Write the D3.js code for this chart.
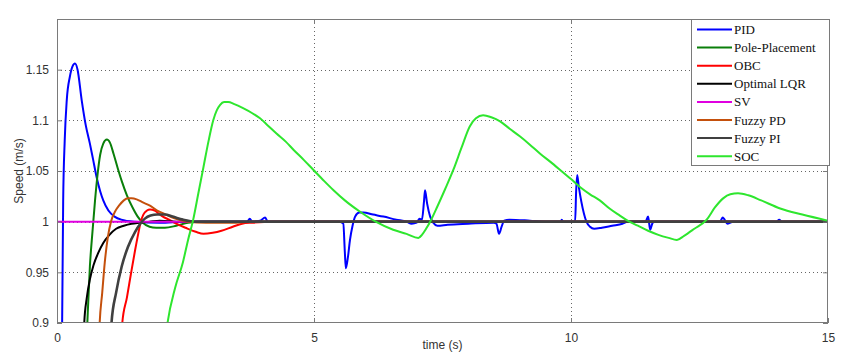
<!DOCTYPE html>
<html><head><meta charset="utf-8">
<script src="https://cdn.jsdelivr.net/npm/d3@7"></script>
<style>
body{margin:0;background:#fff;}
svg{display:block;}
</style>
</head><body>
<svg id="chart" width="854" height="353"></svg>
<script>
const seriesNames = ["PID","Pole-Placement","OBC","Optimal LQR","SV","Fuzzy PD","Fuzzy PI","SOC"];
const seriesColors = ["#0000ff","#0a7f0a","#ff0000","#000000","#e000e0","#c4500c","#404040","#2ee62e"];
const xTicks = [0,5,10,15];
const yTicks = [0.9,0.95,1,1.05,1.1,1.15];
const yTickLabels = ["0.9","0.95","1","1.05","1.1","1.15"];

const pid = [[0.08,0.85],[0.10,0.90],[0.12,1.02],[0.15,1.08],[0.19,1.12],[0.25,1.143],[0.30,1.153],[0.35,1.156],[0.40,1.150],[0.48,1.12],[0.56,1.095],[0.64,1.077],[0.70,1.062],[0.77,1.044],[0.84,1.030],[0.90,1.021],[1.00,1.011],[1.12,1.005],[1.25,1.002],[1.5,1.0],[2.0,0.999],[2.5,1.0],[3.0,1.0],[3.7,1.0],[3.75,1.003],[3.8,1.0],[3.95,1.001],[4.05,1.004],[4.1,1.0],[4.2,1.0],[5.5,1.0],[5.57,0.998],[5.60,0.97],[5.62,0.954],[5.66,0.965],[5.70,0.982],[5.75,0.996],[5.80,1.005],[5.88,1.009],[5.96,1.009],[6.15,1.007],[6.35,1.005],[6.6,1.002],[6.8,1.0],[6.9,0.998],[7.0,0.999],[7.05,1.003],[7.1,1.002],[7.14,1.02],[7.16,1.031],[7.2,1.018],[7.26,1.005],[7.32,0.999],[7.4,0.996],[7.6,0.997],[8.0,0.998],[8.5,0.999],[8.55,0.998],[8.6,0.988],[8.65,0.995],[8.7,1.001],[8.8,1.002],[9.2,1.001],[9.5,1.0],[9.8,1.0],[9.82,1.002],[9.85,1.0],[10.08,1.0],[10.1,1.03],[10.12,1.046],[10.15,1.035],[10.2,1.02],[10.3,1.0],[10.37,0.995],[10.45,0.993],[10.6,0.994],[10.8,0.996],[11.0,0.998],[11.1,1.0],[11.45,1.0],[11.5,1.005],[11.54,0.992],[11.58,0.998],[11.62,1.0],[12.9,1.0],[12.95,1.004],[13.05,0.998],[13.15,1.0],[14.0,1.0],[14.05,1.002],[14.1,1.0],[15,1.0]];
const pole = [[0.55,0.85],[0.59,0.90],[0.64,0.956],[0.69,0.99],[0.74,1.021],[0.79,1.047],[0.84,1.066],[0.90,1.077],[0.97,1.081],[1.03,1.078],[1.10,1.067],[1.18,1.053],[1.26,1.040],[1.36,1.026],[1.47,1.014],[1.57,1.005],[1.67,0.999],[1.80,0.995],[1.93,0.994],[2.1,0.994],[2.32,0.996],[2.55,0.999],[2.8,1.0],[15,1.0]];
const obc = [[1.22,0.86],[1.27,0.90],[1.36,0.925],[1.45,0.952],[1.52,0.972],[1.58,0.988],[1.63,1.0],[1.68,1.007],[1.75,1.011],[1.81,1.012],[1.90,1.011],[1.98,1.008],[2.06,1.005],[2.18,1.002],[2.32,0.998],[2.5,0.994],[2.7,0.990],[2.85,0.988],[3.03,0.989],[3.2,0.991],[3.42,0.995],[3.6,0.998],[3.8,0.999],[4.2,1.0],[15,1.0]];
const lqr = [[0.50,0.86],[0.53,0.90],[0.58,0.925],[0.64,0.943],[0.71,0.957],[0.80,0.969],[0.90,0.979],[1.02,0.987],[1.15,0.993],[1.30,0.996],[1.45,0.998],[1.6,0.999],[1.8,1.0],[2.0,1.001],[2.4,1.0],[15,1.0]];
const sv = [[0,1.0],[15,1.0]];
const fuzzyPD = [[0.80,0.86],[0.83,0.90],[0.88,0.93],[0.93,0.96],[0.99,0.985],[1.05,1.0],[1.13,1.010],[1.21,1.016],[1.30,1.021],[1.38,1.023],[1.45,1.023],[1.55,1.022],[1.67,1.019],[1.80,1.016],[1.95,1.011],[2.12,1.007],[2.3,1.003],[2.55,1.0],[2.9,0.999],[3.4,0.999],[3.8,1.0],[15,1.0]];
const fuzzyPI = [[1.02,0.86],[1.06,0.90],[1.15,0.93],[1.26,0.956],[1.38,0.975],[1.52,0.990],[1.62,0.998],[1.71,1.003],[1.82,1.006],[1.95,1.007],[2.1,1.007],[2.25,1.005],[2.45,1.002],[2.7,1.0],[15,1.0]];
const soc = [[2.10,0.88],[2.15,0.90],[2.30,0.935],[2.45,0.96],[2.55,0.982],[2.65,1.002],[2.75,1.028],[2.85,1.054],[2.95,1.080],[3.04,1.100],[3.11,1.110],[3.17,1.115],[3.25,1.118],[3.33,1.118],[3.45,1.116],[3.62,1.112],[3.8,1.107],[3.95,1.102],[4.1,1.095],[4.27,1.087],[4.45,1.079],[4.60,1.071],[4.8,1.061],[4.99,1.051],[5.2,1.040],[5.38,1.031],[5.6,1.021],[5.89,1.010],[6.2,1.000],[6.54,0.992],[6.8,0.988],[7.03,0.984],[7.1,0.987],[7.18,0.993],[7.26,1.000],[7.4,1.015],[7.55,1.032],[7.71,1.051],[7.87,1.073],[8.03,1.094],[8.15,1.102],[8.29,1.105],[8.45,1.103],[8.62,1.099],[8.8,1.092],[9.01,1.084],[9.2,1.076],[9.40,1.067],[9.6,1.059],[9.79,1.051],[10.0,1.042],[10.18,1.034],[10.37,1.027],[10.56,1.021],[10.75,1.013],[10.95,1.006],[11.1,1.001],[11.3,0.996],[11.5,0.991],[11.7,0.987],[11.9,0.984],[12.06,0.982],[12.2,0.986],[12.4,0.993],[12.64,1.002],[12.8,1.014],[12.96,1.023],[13.1,1.027],[13.25,1.028],[13.45,1.026],[13.7,1.021],[14.07,1.013],[14.5,1.007],[15.0,1.001]];

const allSeries = [pid, pole, obc, lqr, sv, fuzzyPD, fuzzyPI, soc];

const svg = d3.select("#chart");
const L = 57, R = 828, T = 19, B = 323;
const x = d3.scaleLinear().domain([0,15]).range([L,R]);
const y = d3.scaleLinear().domain([0.9,1.2]).range([B,T]);

svg.append("defs").append("clipPath").attr("id","clip")
  .append("rect").attr("x",L).attr("y",T).attr("width",R-L).attr("height",B-T);

const grid = svg.append("g").attr("stroke","#666").attr("stroke-width",1).attr("stroke-dasharray","1,3");
grid.selectAll(".gx").data(xTicks.slice(1,-1)).join("line")
  .attr("x1",d=>Math.round(x(d))+0.5).attr("x2",d=>Math.round(x(d))+0.5).attr("y1",T).attr("y2",B);
grid.selectAll(".gy").data(yTicks.slice(1)).join("line")
  .attr("y1",d=>Math.round(y(d))+0.5).attr("y2",d=>Math.round(y(d))+0.5).attr("x1",L).attr("x2",R);

const line = d3.line().x(d=>x(d[0])).y(d=>y(d[1])).curve(d3.curveMonotoneX);
const plot = svg.append("g").attr("clip-path","url(#clip)");
allSeries.forEach((s,i)=>{
  plot.append("path").datum(s).attr("d",line).attr("fill","none")
    .attr("stroke",seriesColors[i]).attr("stroke-width", i===6 ? 2.6 : 2)
    .attr("stroke-linejoin","round");
});

// frame
svg.append("rect").attr("x",L+0.5).attr("y",T+0.5).attr("width",R-L-1).attr("height",B-T-1)
  .attr("fill","none").attr("stroke","#7a7a7a").attr("stroke-width",1);

// axes
const xAxis = d3.axisBottom(x).tickValues(xTicks).tickFormat(d3.format("d")).tickSizeInner(-5).tickSizeOuter(0).tickPadding(8);
const yAxis = d3.axisLeft(y).tickValues(yTicks).tickFormat((d,i)=>yTickLabels[i]).tickSizeInner(-5).tickSizeOuter(0).tickPadding(8);
const gx = svg.append("g").attr("transform",`translate(0,${B})`).call(xAxis);
const gy = svg.append("g").attr("transform",`translate(${L},0)`).call(yAxis);
const gx2 = svg.append("g").attr("transform",`translate(0,${T})`).call(d3.axisTop(x).tickValues(xTicks).tickSizeInner(-5).tickSizeOuter(0).tickFormat(""));
const gy2 = svg.append("g").attr("transform",`translate(${R},0)`).call(d3.axisRight(y).tickValues(yTicks).tickSizeInner(-5).tickSizeOuter(0).tickFormat(""));
[gx,gy,gx2,gy2].forEach(g=>{
  g.select(".domain").remove();
  g.selectAll(".tick line").attr("stroke","#7a7a7a");
  g.selectAll("text").attr("font-family","Liberation Sans, Arial, sans-serif").attr("font-size",12).attr("fill","#333");
});
gx.selectAll("text").attr("dy","0.9em");

svg.append("text").attr("x",(L+R)/2).attr("y",349).attr("text-anchor","middle")
  .attr("font-family","Liberation Sans, Arial, sans-serif").attr("font-size",12).attr("fill","#333").text("time (s)");
svg.append("text").attr("transform",`translate(23,${(T+B)/2}) rotate(-90)`).attr("text-anchor","middle")
  .attr("font-family","Liberation Sans, Arial, sans-serif").attr("font-size",12).attr("fill","#333").text("Speed (m/s)");

// legend
const lg = svg.append("g");
lg.append("rect").attr("x",691.5).attr("y",19.5).attr("width",138).attr("height",146)
  .attr("fill","#fff").attr("stroke","#7a7a7a").attr("stroke-width",1);
seriesNames.forEach((n,i)=>{
  const yy = 29.5 + i*18.1;
  lg.append("line").attr("x1",697).attr("x2",732).attr("y1",yy).attr("y2",yy)
    .attr("stroke",seriesColors[i]).attr("stroke-width",2);
  lg.append("text").attr("x",734).attr("y",yy).attr("dy","0.35em")
    .attr("font-family","Liberation Serif, Times New Roman, serif").attr("font-size",13).attr("fill","#111").text(n);
});
</script>
</body></html>
